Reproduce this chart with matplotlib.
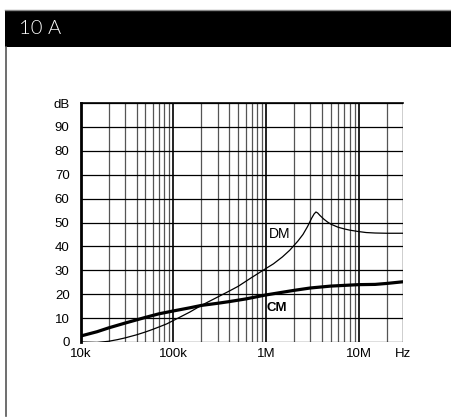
import numpy as np
import matplotlib.pyplot as plt
from matplotlib.patches import Rectangle
from matplotlib.lines import Line2D

# DM (differential mode) attenuation
dm_freq = [1e4, 1.2e4, 1.5e4, 2e4, 2.5e4, 3e4, 4e4, 5e4, 6e4, 7e4, 8.5e4, 1e5, 1.5e5,
           2e5, 3e5, 4e5, 5e5, 7e5, 1e6, 1.2e6, 1.5e6, 1.8e6, 2.2e6, 2.5e6, 2.8e6,
           3.1e6, 3.3e6, 3.45e6, 3.6e6, 3.8e6, 4.2e6, 4.6e6, 5e6, 6e6, 7e6, 8e6,
           1e7, 1.2e7, 1.5e7, 2e7, 3e7]
dm_db = [0.0, -0.1, -0.2, 0.3, 1.0, 1.7, 3.0, 4.2, 5.3, 6.3, 7.6, 9.0, 12.5,
         15.3, 18.8, 21.3, 23.3, 27.0, 30.8, 32.7, 35.6, 38.4, 42.2, 45.0, 48.3,
         51.8, 53.6, 54.4, 54.0, 53.0, 51.4, 50.2, 49.3, 48.0, 47.3, 46.8,
         46.2, 45.8, 45.6, 45.5, 45.5]

# CM (common mode) attenuation
cm_freq = [1e4, 1.5e4, 2e4, 3e4, 5e4, 7e4, 1e5, 1.5e5, 2e5, 3e5, 4e5, 6e5, 1e6,
           2e6, 3e6, 5e6, 1e7, 1.5e7, 2e7, 3e7]
cm_db = [2.5, 4.3, 5.9, 7.9, 10.3, 11.8, 13.0, 14.3, 15.3, 16.2, 16.9, 18.0, 19.7,
         21.6, 22.6, 23.4, 24.0, 24.1, 24.5, 25.2]

x_ticks = [1e4, 1e5, 1e6, 1e7, 3e7]
x_labels = ["10k", "100k", "1M", "10M", "Hz"]
y_ticks = list(range(0, 101, 10))
y_labels = [str(v) for v in range(0, 91, 10)] + ["dB"]

W, H = 451, 419
fig = plt.figure(figsize=(W / 100, H / 100), dpi=100)

# header bar
fig.patches.append(Rectangle((5 / W, 1 - 47 / H), 1, 37 / H, transform=fig.transFigure,
                             facecolor="black", edgecolor="none", zorder=0))
fig.lines.append(Line2D([5 / W, 1], [1 - 10 / H, 1 - 10 / H], transform=fig.transFigure,
                        color="#888888", lw=1))
fig.lines.append(Line2D([6 / W, 6 / W], [1 - 47 / H, 1 - 416 / H], transform=fig.transFigure,
                        color="#555555", lw=1.2))
fig.text(19 / W, 1 - 29 / H, "10 A", color="white", fontsize=14.5, family="Lato",
         fontweight=300, va="center", ha="left", zorder=10)

ax = fig.add_axes([80.7 / W, 1 - 342 / H, (403 - 80.7) / W, (342 - 103) / H])
ax.set_xscale("log")
ax.set_xlim(1e4, 3e7)
ax.set_ylim(0, 100)

# grid
for dec in [1e4, 1e5, 1e6, 1e7]:
    for m in range(1, 10):
        f = dec * m
        if f > 3e7:
            break
        lw = 1.4 if m == 1 else 0.9
        ax.axvline(f, color="#222222" if m == 1 else "#555555", lw=lw, zorder=1)
ax.axvline(3e7, color="#666666", lw=1.0, zorder=1)
for v in y_ticks:
    ax.axhline(v, color="black", lw=0.9, zorder=1)

ax.plot(dm_freq, dm_db, color="black", lw=0.9, zorder=3)
ax.plot(cm_freq, cm_db, color="black", lw=2.3, zorder=3)

ax.text(1.4e6, 45, "DM", fontsize=10, family="Liberation Sans", ha="center", va="center")
ax.text(1.31e6, 14.4, "CM", fontsize=9.5, family="Liberation Sans", fontweight="bold",
        ha="center", va="center")

for s in ["right", "bottom"]:
    ax.spines[s].set_visible(False)
ax.spines["left"].set_linewidth(2)
ax.spines["top"].set_linewidth(1.2)

ax.set_xticks(x_ticks)
ax.set_xticklabels(x_labels)
ax.xaxis.set_minor_locator(plt.NullLocator())
ax.set_yticks(y_ticks)
ax.set_yticklabels(y_labels)
ax.tick_params(length=0, labelsize=9.5, pad=8)
ax.tick_params(axis="x", pad=4)
for lab in ax.get_xticklabels() + ax.get_yticklabels():
    lab.set_family("Liberation Sans")

fig.savefig("out.png", dpi=100)
